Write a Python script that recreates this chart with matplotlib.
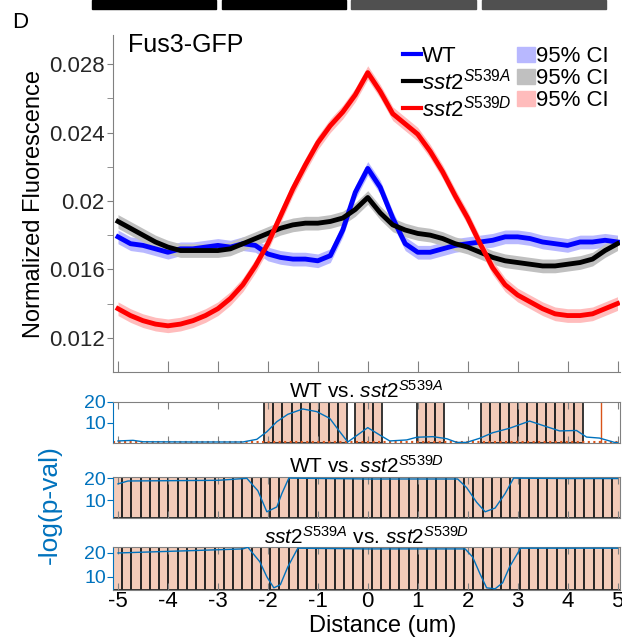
import numpy as np
import matplotlib.pyplot as plt
from matplotlib.patches import Rectangle, Patch
from matplotlib.lines import Line2D

plt.rcParams['font.family'] = ['Liberation Sans', 'DejaVu Sans']
plt.rcParams['mathtext.fontset'] = 'custom'
plt.rcParams['mathtext.rm'] = 'Liberation Sans'
plt.rcParams['mathtext.it'] = 'Liberation Sans:italic'

# distance grid (um) for the fluorescence profiles
dist = np.arange(-5, 5.01, 0.25)

wt = [0.0179, 0.0175, 0.0174, 0.0172, 0.0170, 0.0172, 0.0172, 0.0173, 0.0174, 0.0173,
      0.0175, 0.0174, 0.0169, 0.0167, 0.0166, 0.0166, 0.0165, 0.0168, 0.0183, 0.0205,
      0.0219, 0.0208, 0.0190, 0.0175, 0.0170, 0.0170, 0.0172, 0.0174, 0.0175, 0.0176,
      0.0177, 0.0179, 0.0179, 0.0178, 0.0176, 0.0175, 0.0174, 0.0176, 0.0176, 0.0177,
      0.0176]
s539a = [0.0188, 0.0184, 0.0180, 0.0176, 0.0173, 0.0171, 0.0171, 0.0171, 0.0171, 0.0172,
         0.0175, 0.0178, 0.0181, 0.0184, 0.0186, 0.0187, 0.0187, 0.0188, 0.0190, 0.0195,
         0.0202, 0.0193, 0.0186, 0.0183, 0.0181, 0.0180, 0.0178, 0.0175, 0.0173, 0.0170,
         0.0167, 0.0165, 0.0164, 0.0163, 0.0162, 0.0162, 0.0163, 0.0164, 0.0166, 0.0171,
         0.0175]
s539d = [0.0137, 0.0133, 0.0130, 0.0128, 0.0127, 0.0128, 0.0130, 0.0133, 0.0137, 0.0143,
         0.0151, 0.0162, 0.0175, 0.0191, 0.0207, 0.0221, 0.0234, 0.0244, 0.0252, 0.0262,
         0.0275, 0.0264, 0.0251, 0.0245, 0.0239, 0.0229, 0.0217, 0.0203, 0.0190, 0.0175,
         0.0161, 0.0151, 0.0145, 0.0141, 0.0137, 0.0134, 0.0133, 0.0133, 0.0134, 0.0137,
         0.0140]
ci_half = [0.0004, 0.0004, 0.0004]  # 95% CI half width per strain

# -log(p-val) comparisons
p1_x = [-5.0, -4.7, -4.5, -3.5, -2.5, -2.22, -2.02, -1.82, -1.6, -1.3, -1.02, -0.76, -0.56,
        -0.4, 0.0, 0.24, 0.44, 0.78, 0.98, 1.3, 1.58, 1.78, 1.98, 2.24, 2.5, 2.84, 3.24,
        3.5, 3.84, 4.18, 4.38, 4.64, 4.94, 5.0]
p1_y = [1.0, 1.3, 0.6, 0.5, 0.5, 1.8, 5.5, 10.4, 14.0, 16.6, 15.3, 12.0, 5.5,
        0.5, 7.5, 3.9, 1.0, 1.5, 2.8, 3.1, 2.1, 0.3, 0.3, 2.3, 5.0, 7.2, 10.7,
        8.6, 5.9, 6.1, 2.9, 2.4, 0.3, 0.2]
p2_x = [-5.0, -4.8, -3.0, -2.42, -2.2, -2.02, -1.82, -1.72, -1.58, 0.0, 1.8, 1.98, 2.18,
        2.35, 2.55, 2.75, 2.92, 4.0, 5.0]
p2_y = [17.4, 18.7, 19.0, 19.9, 14.3, 4.8, 7.0, 13.0, 20.0, 19.6, 19.6, 15.7, 9.1,
        4.8, 6.5, 13.0, 20.0, 19.8, 19.8]
p3_x = [-5.0, -3.5, -2.5, -2.4, -2.16, -2.02, -1.88, -1.75, -1.6, -1.4, 0.0, 1.95, 2.1,
        2.24, 2.38, 2.55, 2.7, 2.84, 3.06, 4.0, 5.0]
p3_y = [20.0, 21.0, 21.7, 22.4, 16.3, 10.0, 5.4, 6.7, 14.2, 22.0, 21.7, 21.7, 18.3,
        11.6, 5.4, 5.0, 7.5, 14.2, 22.0, 22.0, 22.0]
sig1 = [(-2.08, -0.44), (-0.26, 0.23), (0.98, 1.36), (2.27, 4.27)]
sig2 = [(-5.1, 5.05)]
sig3 = [(-5.1, 5.05)]

W, H = 622, 637
def rect(l, t, r, b):
    return [l / W, 1 - b / H, (r - l) / W, (b - t) / H]

fig = plt.figure(figsize=(W / 100, H / 100), dpi=100)

# cut-off bars from the panel above
for x0, x1, c in [(92, 216, 'k'), (222, 346, 'k'), (351, 476, '#505050'), (482, 606, '#505050')]:
    fig.patches.append(Rectangle((x0 / W, 1 - 9 / H), (x1 - x0) / W, 9 / H,
                                 transform=fig.transFigure, color=c))
fig.text(12 / W, 1 - 22 / H, 'D', fontsize=16, va='center', ha='left')

ax = fig.add_axes(rect(113, 35, 620, 372))
cols = ['#0000ff', 'k', '#ff0000']
fills = ['#b8b8ff', '#c0c0c0', '#ffbcbc']
for ys, c, fc, h in zip([wt, s539a, s539d], cols, fills, ci_half):
    ys = np.array(ys)
    ax.fill_between(dist, ys - h, ys + h, color=fc, lw=0)
for ys, c in zip([wt, s539a, s539d], cols):
    ax.plot(dist, ys, color=c, lw=3.5)
ax.set_xlim(-5.1, 5.05)
ax.set_ylim(0.01, 0.0297)
ax.set_yticks([0.012, 0.016, 0.02, 0.024, 0.028])
ax.set_yticklabels(['0.012', '0.016', '0.02', '0.024', '0.028'])
ax.set_yticks([0.014, 0.018, 0.022, 0.026], minor=True)
ax.set_xticks(range(-5, 6))
ax.set_xticklabels([])
ax.tick_params(axis='y', which='both', direction='out', length=4, color='#808080',
               labelsize=16, labelcolor='#262626', pad=2)
ax.tick_params(axis='x', direction='in', length=8, color='#808080')
for s in ['top', 'right']:
    ax.spines[s].set_visible(False)
for s in ['left', 'bottom']:
    ax.spines[s].set_color('#808080')
ax.set_ylabel('Normalized Fluorescence', fontsize=17, labelpad=3)
ax.text(0.03, 0.97, 'Fus3-GFP', transform=ax.transAxes, fontsize=18, va='center')

handles = [Line2D([], [], color=c, lw=3) for c in cols] + \
          [Patch(color=fc) for fc in fills]
labels = ['WT', r'$\mathit{sst2}^{\mathit{S539A}}$', r'$\mathit{sst2}^{\mathit{S539D}}$',
          '95% CI', '95% CI', '95% CI']
ax.legend(handles, labels, ncol=2, loc='upper right', bbox_to_anchor=(1.0, 1.0),
          frameon=False, fontsize=16, handlelength=0.8, handletextpad=0.05,
          columnspacing=0.3, labelspacing=0.05, borderaxespad=0.1)

pblue = '#0072bd'
salmon = (0.851, 0.325, 0.098, 0.3)
panels = [(rect(113, 402, 620, 443), p1_x, p1_y, sig1, (0, 20),
           r'WT vs. $\mathit{sst2}^{\mathit{S539A}}$'),
          (rect(113, 477, 620, 518), p2_x, p2_y, sig2, (2, 20.5),
           r'WT vs. $\mathit{sst2}^{\mathit{S539D}}$'),
          (rect(113, 547, 620, 590), p3_x, p3_y, sig3, (4.5, 22.5),
           r'$\mathit{sst2}^{\mathit{S539A}}$ vs. $\mathit{sst2}^{\mathit{S539D}}$')]
binw = 0.185
for i, (r, px, py, sig, yl, title) in enumerate(panels):
    a = fig.add_axes(r)
    for s0, s1 in sig:
        edges = np.arange(s0, s1 - 1e-6, binw)
        a.bar(edges, yl[1] - yl[0], width=binw, bottom=yl[0], align='edge',
              color=salmon, edgecolor='#262626', lw=1.3, zorder=1)
    if i == 0:
        a.axvline(4.66, color='#d95319', lw=1, zorder=2)
        a.axhline(yl[0] + 0.3, color='#d95319', lw=1.5, ls=':', zorder=2)
    a.plot(px, py, color=pblue, lw=1, zorder=3)
    a.set_xlim(-5.1, 5.05)
    a.set_ylim(*yl)
    a.set_yticks([10, 20])
    a.set_xticks(range(-5, 6))
    a.tick_params(axis='y', colors=pblue, labelsize=14, length=4, pad=1)
    a.tick_params(axis='x', direction='in', top=True, length=5, color='#808080')
    for s in a.spines.values():
        s.set_color('#808080')
    a.spines['left'].set_color(pblue)
    a.set_title(title, fontsize=15, pad=2)
    if i < 2:
        a.set_xticklabels([])
    else:
        a.set_xticklabels([str(v) for v in range(-5, 6)], fontsize=16)
        a.tick_params(axis='x', pad=1)

fig.text(383 / W, 1 - 626 / H, 'Distance (um)', fontsize=17, ha='center', va='center')
fig.text(50 / W, 1 - 505 / H, '-log(p-val)', fontsize=19, color=pblue, rotation=90,
         ha='center', va='center')

fig.savefig('out.png', dpi=100)
